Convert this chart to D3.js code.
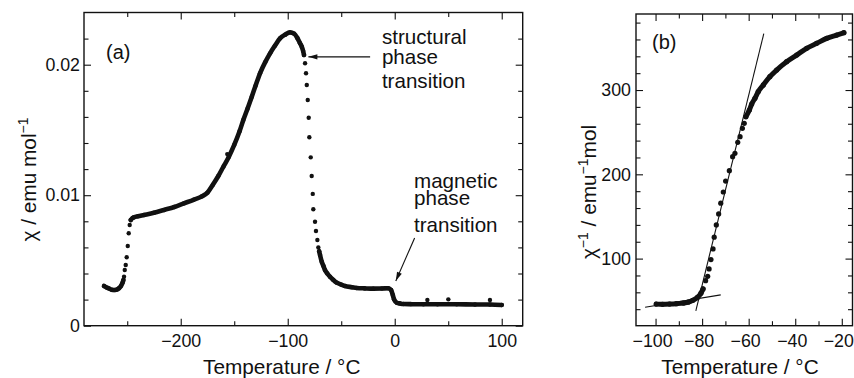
<!DOCTYPE html>
<html><head><meta charset="utf-8">
<script src="https://cdn.jsdelivr.net/npm/d3@7"></script>
<style>body{margin:0;background:#fff}svg{display:block}</style>
</head><body>
<svg id="c" width="854" height="378"></svg>
<script>
// ---------- Panel (a): chi vs T ----------
const aSeg1T   = [-271.7,-269,-267,-264.5,-262.3,-260,-257.7,-255.8,-254.6,-253.6];
const aSeg1Chi = [0.00304,0.00292,0.00285,0.00276,0.00273,0.00276,0.00287,0.00305,0.00325,0.0035];
const aSeg2T   = [-246.7,-245,-243.6,-240,-234.3,-225,-215.6,-206,-196.9,-188,-180,-175,-170,-165,-160,-155,-150,-145,-141.5,-137.5,-133.6,-130,-125.9,-121,-116.5,-112,-107.2,-102.5,-97.9,-94,-91,-88.5,-86.9,-85.6,-84.8];
const aSeg2Chi = [0.0081,0.00825,0.00831,0.00838,0.00848,0.00865,0.00887,0.0091,0.00938,0.00965,0.00992,0.0102,0.0108,0.01145,0.0122,0.01295,0.01385,0.0149,0.01576,0.01665,0.01755,0.0184,0.01934,0.0202,0.02087,0.02145,0.02202,0.0223,0.02248,0.02238,0.02205,0.02165,0.02138,0.02105,0.02074];
const aSeg3T   = [-70.6,-69.8,-68.2,-66.5,-65.2,-63,-60.5,-57.5,-54.2,-50,-46.5,-40,-35.5,-28,-20,-12,-6,-3.4,-1.8,-0.6,1.9,5,8.1,15,26.8,40,57.9,75,89,100];
const aSeg3Chi = [0.0057,0.00542,0.0049,0.00455,0.00427,0.004,0.00375,0.00352,0.0033,0.00315,0.00304,0.00295,0.00289,0.00286,0.00284,0.00285,0.00287,0.00274,0.00235,0.00202,0.00176,0.0017,0.00166,0.00165,0.00164,0.00164,0.00164,0.00163,0.00163,0.00159];
const aDotT    = [-253,-252.3,-251.4,-250.5,-249.5,-248.6,-247.7,-156.5,-83.8,-82.9,-82.2,-81.3,-80.4,-79.8,-78.5,-77.6,-76.6,-76.1,-74.5,-73.6,-72.3,-71.4,30.5,50.1,89];
const aDotChi  = [0.00376,0.00427,0.00465,0.00524,0.00611,0.00708,0.00772,0.01315,0.02011,0.01934,0.01844,0.0173,0.01594,0.01444,0.0129,0.01147,0.0101,0.00892,0.00797,0.00726,0.00657,0.006,0.00197,0.00202,0.00197];
const aXMajor = [-200,-100,0,100];
const aXMinor = [-250,-150,-50,50];
const aYMajor = [0,0.01,0.02];
const aYMinor = [0.002,0.004,0.006,0.008,0.012,0.014,0.016,0.018,0.022];

// ---------- Panel (b): 1/chi vs T ----------
const bSeg1T = [-99.7,-97,-94,-91,-88,-86,-84,-82,-80.5,-79.6];
const bSeg1V = [46,45.8,46,46.5,47.3,48.3,50.5,54,59,64];
const bDotT  = [-78.5,-77.6,-77.0,-76.2,-75.3,-74.8,-73.9,-72.9,-72.0,-70.9,-69.9,-68.3,-66.9,-65.9,-64.7,-63.7,-62.7,-61.9];
const bDotV  = [73.8,79,87.7,98.8,111.5,125.4,140,153,165.8,179,192,204.3,220.9,224.9,238,244.6,254.6,260.5];
const bSeg2T = [-61.2,-59.7,-58.7,-57.3,-55.9,-53.7,-50.9,-48,-43.7,-39.4,-35.1,-30.8,-26.5,-22.2,-19.1];
const bSeg2V = [268.3,276.3,283.4,290.2,298,306,315.8,323.7,333.6,341.5,349.5,355.4,361.3,365.2,368];
const bFitSteepT = [-82.7,-53.5];
const bFitSteepV = [38,367];
const bFitFlatT  = [-104.5,-72];
const bFitFlatV  = [42.3,57];
const bXMajor = [-100,-80,-60,-40,-20];
const bXMinor = [-90,-70,-50,-30];
const bYMajor = [100,200,300];
const bYMinor = [40,60,80,120,140,160,180,220,240,260,280,320,340,360,380];

const FONT = "'Liberation Sans', Arial, Helvetica, sans-serif";
const INK = "#111";
const svg = d3.select("#c");

function zip(t, v){ return t.map((d,i)=>[d, v[i]]); }

function frame(g, x, y, w, h, cfg){
  const add = (axis, tr, vals, size, fmt, pad, dx) => {
    const a = g.append("g").attr("transform", tr)
      .call(axis.tickValues(vals).tickSizeInner(size).tickSizeOuter(0).tickPadding(pad).tickFormat(fmt));
    a.select(".domain").remove();
    a.attr("font-family", FONT).attr("font-size", 17.8).attr("color", INK);
    a.selectAll("line").attr("stroke-width", 1.1);
    if (dx) a.selectAll("text").attr("dx", dx);
    return a;
  };
  const none = () => "";
  add(d3.axisBottom(x), `translate(0,${h})`, cfg.xMajor, -7, cfg.xFmt, 8.5, cfg.xDx);
  add(d3.axisBottom(x), `translate(0,${h})`, cfg.xMinor, -4.5, none, 8);
  add(d3.axisTop(x), `translate(0,0)`, cfg.xMajor, -7, none, 8);
  add(d3.axisTop(x), `translate(0,0)`, cfg.xMinor, -4.5, none, 8);
  add(d3.axisLeft(y), `translate(0,0)`, cfg.yMajor, -7, cfg.yFmt, cfg.yPad);
  add(d3.axisLeft(y), `translate(0,0)`, cfg.yMinor, -4.5, none, 8);
  add(d3.axisRight(y), `translate(${w},0)`, cfg.yMajor, -7, none, 8);
  add(d3.axisRight(y), `translate(${w},0)`, cfg.yMinor, -4.5, none, 8);
  g.append("rect").attr("width", w).attr("height", h)
    .attr("fill","none").attr("stroke", INK).attr("stroke-width", 1.4);
}

function series(g, x, y, segs, dots, r, lw){
  const line = d3.line().x(d=>x(d[0])).y(d=>y(d[1])).curve(d3.curveMonotoneX);
  segs.forEach(s => {
    g.append("path").attr("d", line(s)).attr("fill","none").attr("stroke", INK)
      .attr("stroke-width", lw).attr("stroke-linecap","round").attr("stroke-linejoin","round");
  });
  const all = segs.flat().concat(dots);
  g.selectAll(null).data(all).join("circle")
    .attr("cx", d=>x(d[0])).attr("cy", d=>y(d[1])).attr("r", r).attr("fill", INK);
}

function arrow(g, x1, y1, x2, y2){
  g.append("line").attr("x1",x1).attr("y1",y1).attr("x2",x2).attr("y2",y2)
    .attr("stroke", INK).attr("stroke-width", 1.1);
  const ang = Math.atan2(y2-y1, x2-x1), L = 9, W = 2.6;
  const bx = x2 - L*Math.cos(ang), by = y2 - L*Math.sin(ang);
  const px = -Math.sin(ang)*W, py = Math.cos(ang)*W;
  g.append("path").attr("d", `M${x2},${y2}L${bx+px},${by+py}L${bx-px},${by-py}Z`).attr("fill", INK);
}

// ===== Panel (a) =====
{
  const L = 84, T = 12.5, W = 438.7, H = 313.2;
  const g = svg.append("g").attr("transform", `translate(${L},${T})`);
  const x = d3.scaleLinear().domain([-290.4, 119.6]).range([0, W]);
  const y = d3.scaleLinear().domain([0, 0.024]).range([H, 0]);
  frame(g, x, y, W, H, {
    xMajor: aXMajor, xMinor: aXMinor, yMajor: aYMajor, yMinor: aYMinor,
    xFmt: d3.format("d"), yFmt: d => d === 0 ? "0" : d3.format(".2f")(d), yPad: 4, xDx: 0
  });
  series(g, x, y, [zip(aSeg1T,aSeg1Chi), zip(aSeg2T,aSeg2Chi), zip(aSeg3T,aSeg3Chi)], zip(aDotT,aDotChi), 2.2, 4.6);

  g.append("text").attr("x", 22).attr("y", 46.5).attr("font-family", FONT).attr("font-size", 20).attr("fill", INK).text("(a)");

  // annotations
  arrow(g, x(-23), y(0.0206), x(-80.7), y(0.0206));
  const t1 = g.append("text").attr("font-family", FONT).attr("font-size", 20.6).attr("fill", INK);
  [["structural",0.02157],["phase",0.02008],["transition",0.01819]].forEach(([s,v]) =>
    t1.append("tspan").attr("x", x(-12)).attr("y", y(v)).text(s));
  arrow(g, x(18.6), y(0.00672), x(1.0), y(0.00343));
  const t2 = g.append("text").attr("font-family", FONT).attr("font-size", 20.6).attr("fill", INK);
  [["magnetic",0.01053],["phase",0.00922],["transition",0.0072]].forEach(([s,v]) =>
    t2.append("tspan").attr("x", x(18)).attr("y", y(v)).text(s));
}

// ===== Panel (b) =====
{
  const L = 636, T = 14, W = 216.5, H = 311.7;
  const g = svg.append("g").attr("transform", `translate(${L},${T})`);
  const x = d3.scaleLinear().domain([-108.4, -15.4]).range([0, W]);
  const y = d3.scaleLinear().domain([20.4, 390.2]).range([H, 0]);
  frame(g, x, y, W, H, {
    xMajor: bXMajor, xMinor: bXMinor, yMajor: bYMajor, yMinor: bYMinor,
    xFmt: d3.format("d"), yFmt: d3.format("d"), yPad: 5, xDx: -3.5
  });
  const line = d3.line().x(d=>x(d[0])).y(d=>y(d[1]));
  [zip(bFitSteepT,bFitSteepV), zip(bFitFlatT,bFitFlatV)].forEach(s =>
    g.append("path").attr("d", line(s)).attr("fill","none").attr("stroke", INK).attr("stroke-width", 1.1));
  series(g, x, y, [zip(bSeg1T,bSeg1V), zip(bSeg2T,bSeg2V)], zip(bDotT,bDotV), 2.6, 5);
  g.append("text").attr("x", 16).attr("y", 34.5).attr("font-family", FONT).attr("font-size", 20).attr("fill", INK).text("(b)");
}

// ===== Axis titles =====
svg.append("text").attr("x", 281.7).attr("y", 374).attr("text-anchor","middle")
  .attr("font-family", FONT).attr("font-size", 20.8).attr("fill", INK).text("Temperature / °C");
svg.append("text").attr("x", 740).attr("y", 374).attr("text-anchor","middle")
  .attr("font-family", FONT).attr("font-size", 20.8).attr("fill", INK).text("Temperature / °C");

{
  const t = svg.append("text").attr("transform", "translate(36,179.5) rotate(-90)").attr("text-anchor","middle")
    .attr("font-family", FONT).attr("font-size", 20.8).attr("fill", INK);
  t.append("tspan").text("χ / emu mol");
  t.append("tspan").attr("font-size", 14).attr("dy", -8).text("−1");
}
{
  const t = svg.append("text").attr("transform", "translate(596,192) rotate(-90)").attr("text-anchor","middle")
    .attr("font-family", FONT).attr("font-size", 20.8).attr("fill", INK);
  t.append("tspan").text("χ");
  t.append("tspan").attr("font-size", 14).attr("dy", -8).text("−1");
  t.append("tspan").attr("dy", 8).text(" / emu");
  t.append("tspan").attr("font-size", 14).attr("dy", -8).text("−1");
  t.append("tspan").attr("dy", 8).text("mol");
}
</script>
</body></html>
